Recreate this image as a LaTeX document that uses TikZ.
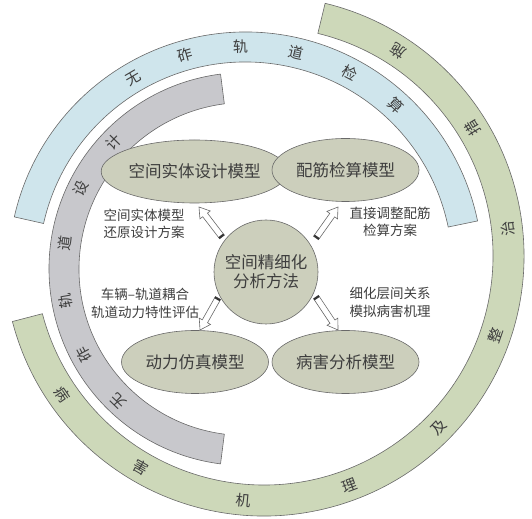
\documentclass[tikz,border=0pt]{standalone}
\usepackage{fontspec}
\setmainfont{Noto Sans CJK SC}
\usetikzlibrary{calc}
\definecolor{ringblue}{RGB}{207,229,236}
\definecolor{ringgray}{RGB}{200,200,204}
\definecolor{ringgreen}{RGB}{205,216,185}
\definecolor{ellfill}{RGB}{204,207,188}
\definecolor{edge}{RGB}{105,105,105}
\definecolor{txt}{RGB}{62,62,62}
\tikzset{
  ring/.style={draw=edge, line width=0.6bp},
  ringchar/.style={inner sep=0pt, text=txt, font=\fontsize{15bp}{15bp}\selectfont},
  model/.style={ellipse, draw=edge, line width=0.6bp, fill=ellfill, minimum width=147bp, minimum height=63bp, inner sep=0pt, text=txt, font=\fontsize{16.5bp}{18bp}\selectfont},
  core/.style={circle, draw=edge, line width=0.6bp, fill=ellfill, minimum size=104bp, inner sep=0pt, text=txt, align=center, font=\fontsize{16.5bp}{19bp}\selectfont},
  note/.style={inner sep=0pt, text=txt, align=center, font=\fontsize{13.5bp}{17.5bp}\selectfont},
  arrowbody/.style={draw=edge, fill=white, line width=0.6bp, line join=miter},
  tailcap/.style={draw=black!80, line width=2bp}
}
\usetikzlibrary{shapes.geometric}
\newcommand\hollowarrow[2]{%
  \draw[arrowbody] ($(#1)!3bp!90:(#2)$) -- ($(#2)!10bp!(#1)!3bp!90:(#2)$) -- ($(#2)!10bp!(#1)!6.5bp!90:(#2)$) -- (#2) -- ($(#2)!10bp!(#1)!6.5bp!-90:(#2)$) -- ($(#2)!10bp!(#1)!3bp!-90:(#2)$) -- ($(#1)!3bp!-90:(#2)$) -- cycle;
  \draw[tailcap] ($(#1)!1bp!(#2)!3bp!90:(#2)$) -- ($(#1)!1bp!(#2)!3bp!-90:(#2)$);
}
\begin{document}
\begin{tikzpicture}[x=1bp,y=1bp]
\useasboundingbox (0,0) rectangle (532,519);
\coordinate (C1) at (245.5,250);
\coordinate (C2) at (264,263);
% rings
\path[ring, fill=ringgreen] ($(C2)+(-165.4:260)$) arc[start angle=-165.4, end angle=76.4, radius=260] -- ($(C2)+(76.4:229)$) arc[start angle=76.4, end angle=-165.4, radius=229] -- cycle;
\path[ring, fill=ringblue] ($(C1)+(11.7:237)$) arc[start angle=11.7, end angle=167.3, radius=237] -- ($(C1)+(167.3:207)$) arc[start angle=167.3, end angle=11.7, radius=207] -- cycle;
\path[ring, fill=ringgray] ($(C1)+(97.3:196.5)$) arc[start angle=97.3, end angle=262.7, radius=196.5] -- ($(C1)+(262.7:166.5)$) arc[start angle=262.7, end angle=97.3, radius=166.5] -- cycle;
% ring texts
\foreach \c [count=\i from 0] in {无,砟,轨,道,检,算} {
  \pgfmathsetmacro\a{120.5-14.6*\i}
  \node[ringchar, rotate=\a-90] (b\i) at ($(C1)+(\a:222)$) {\c};
}
\foreach \c [count=\i from 0] in {无,砟,轨,道,设,计} {
  \pgfmathsetmacro\a{226-18*\i}
  \node[ringchar, rotate=\a-90] (g\i) at ($(C1)+(\a:183)$) {\c};
}
\foreach \c [count=\i from 0] in {病,害,机,理,及,整,治,措,施} {
  \pgfmathsetmacro\a{214.5+25.3*\i}
  \node[ringchar, rotate=\a+90] (r\i) at ($(C2)+(\a:245)$) {\c};
}
% models
\node[core] (core) at (266,247) {空间精细化\\分析方法};
\node[model] (m1) at (194.5,347.5) {空间实体设计模型};
\node[model] (m2) at (345.5,349) {配筋检算模型};
\node[model] (m3) at (195,157) {动力仿真模型};
\node[model] (m4) at (345.5,157) {病害分析模型};
% notes
\node[note] (n1) at (144,295) {空间实体模型\\还原设计方案};
\node[note] (n2) at (390,297) {直接调整配筋\\检算方案};
\node[note] (n3) at (145,215.5) {车辆–轨道耦合\\轨道动力特性评估};
\node[note] (n4) at (390,216.5) {细化层间关系\\模拟病害机理};
% arrows
\coordinate (t1) at (222,282); \coordinate (h1) at (199,312);
\coordinate (t2) at (316,281); \coordinate (h2) at (338,312);
\coordinate (t3) at (218,221); \coordinate (h3) at (200,189);
\coordinate (t4) at (316,222); \coordinate (h4) at (338,189);
\hollowarrow{t1}{h1}
\hollowarrow{t2}{h2}
\hollowarrow{t3}{h3}
\hollowarrow{t4}{h4}
\end{tikzpicture}
\end{document}
